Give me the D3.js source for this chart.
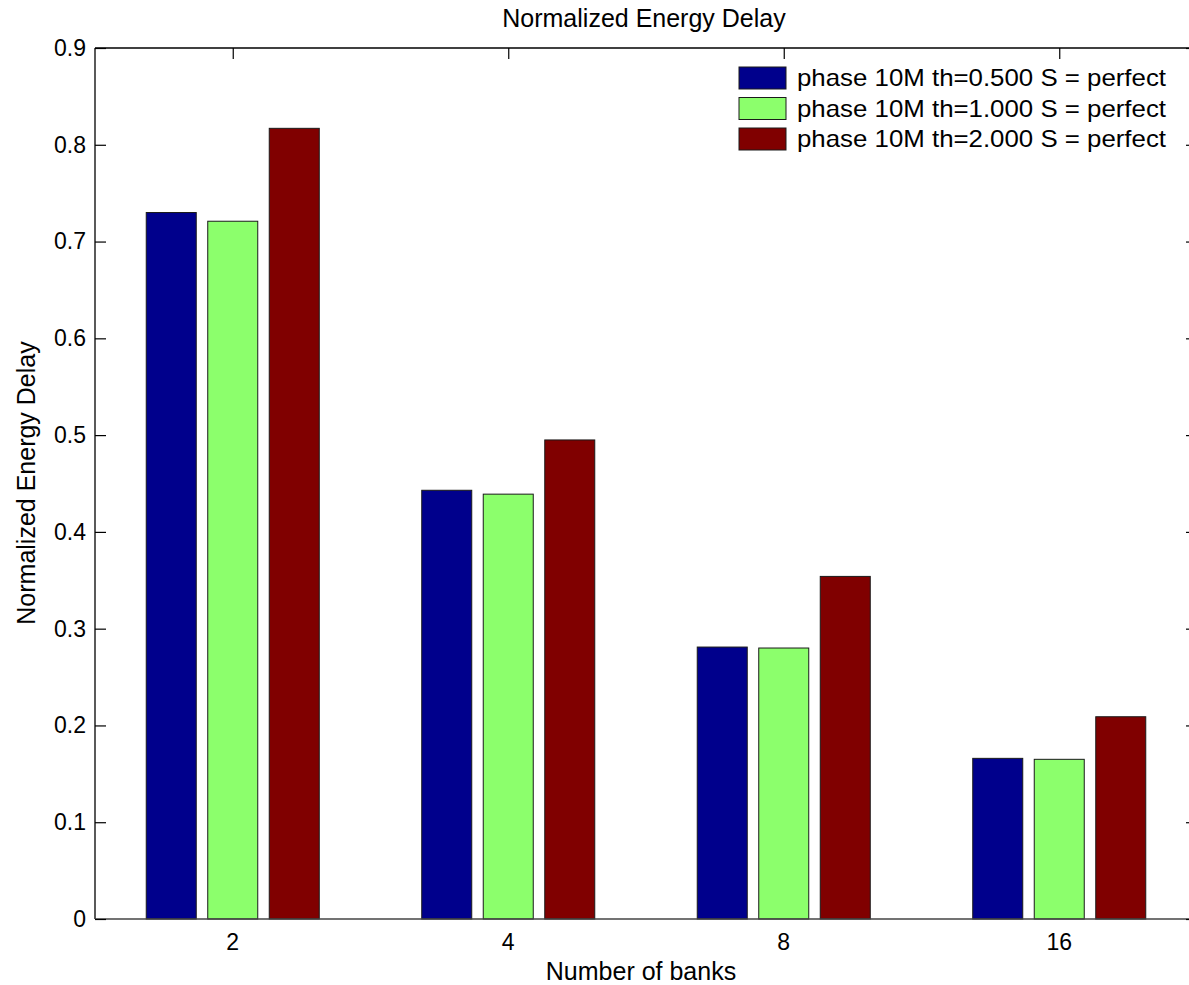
<!DOCTYPE html>
<html>
<head>
<meta charset="utf-8">
<script src="https://cdn.jsdelivr.net/npm/d3@7"></script>
<style>
  html, body { margin: 0; padding: 0; background: #fff; overflow: hidden; }
  svg { display: block; font-family: "Liberation Sans", Arial, sans-serif; }
</style>
</head>
<body>
<svg id="chart" width="1189" height="985"></svg>
<script>
// Categories on the x axis (number of banks)
const categories = ["2", "4", "8", "16"];

// Series names shown in the legend
const seriesNames = [
  "phase 10M th=0.500 S = perfect",
  "phase 10M th=1.000 S = perfect",
  "phase 10M th=2.000 S = perfect"
];

// Normalized energy delay per series, one value per category
const seriesTh0500 = [0.730, 0.443, 0.281, 0.166];
const seriesTh1000 = [0.721, 0.439, 0.280, 0.165];
const seriesTh2000 = [0.817, 0.495, 0.354, 0.209];

const seriesColors = ["#00008c", "#8cff6c", "#800000"];

// Y axis ticks
const yTicks = [0, 0.1, 0.2, 0.3, 0.4, 0.5, 0.6, 0.7, 0.8, 0.9];

const allSeries = [seriesTh0500, seriesTh1000, seriesTh2000];

const svg = d3.select("#chart");

// Plot box (right edge of the axes sits just past the canvas)
const plot = { left: 95, right: 1197, top: 48, bottom: 919 };

const y = d3.scaleLinear().domain([0, 0.9]).range([plot.bottom, plot.top]);

const x = d3.scaleBand()
  .domain(categories)
  .range([plot.left, plot.right])
  .paddingInner(0.372)
  .paddingOuter(0.186);

const xInner = d3.scaleBand()
  .domain(d3.range(allSeries.length))
  .range([0, x.bandwidth()])
  .paddingInner(0.187)
  .paddingOuter(0);

// Bars
const groups = svg.append("g")
  .selectAll("g")
  .data(allSeries)
  .join("g")
  .attr("fill", (d, i) => seriesColors[i]);

groups.selectAll("rect")
  .data((vals, si) => vals.map((v, ci) => ({ v, ci, si })))
  .join("rect")
  .attr("x", d => x(categories[d.ci]) + xInner(d.si))
  .attr("y", d => y(d.v))
  .attr("width", xInner.bandwidth())
  .attr("height", d => y(0) - y(d.v))
  .attr("stroke", "#1a1a1a")
  .attr("stroke-width", 1);

// Axes box
const axisColor = "#000";
const tickLen = 11;
const box = svg.append("g").attr("stroke", axisColor).attr("stroke-width", 1.3).attr("fill", "none");
box.append("line").attr("x1", plot.left).attr("x2", plot.left).attr("y1", plot.top).attr("y2", plot.bottom);
box.append("line").attr("x1", plot.left).attr("x2", plot.right).attr("y1", plot.top).attr("y2", plot.top);
box.append("line").attr("x1", plot.left).attr("x2", plot.right).attr("y1", plot.bottom).attr("y2", plot.bottom).attr("stroke", "#444");
box.append("line").attr("x1", plot.right).attr("x2", plot.right).attr("y1", plot.top).attr("y2", plot.bottom);

// Y ticks (inward on left and right) and labels
const yAxisLeft = d3.axisLeft(y).tickValues(yTicks).tickSize(-tickLen).tickPadding(9)
  .tickFormat(d => d === 0 ? "0" : d3.format(".1f")(d));
const gyl = svg.append("g").attr("transform", `translate(${plot.left},0)`).call(yAxisLeft);
gyl.attr("font-size", 23).attr("font-family", "Liberation Sans, Arial, sans-serif");
gyl.select(".domain").remove();
gyl.selectAll(".tick line").attr("stroke", axisColor).attr("stroke-width", 1.2);
gyl.selectAll(".tick text").attr("fill", "#000");

const yAxisRight = d3.axisRight(y).tickValues(yTicks).tickSize(-tickLen).tickFormat("");
const gyr = svg.append("g").attr("transform", `translate(${plot.right},0)`).call(yAxisRight);
gyr.select(".domain").remove();
gyr.selectAll(".tick line").attr("stroke", axisColor).attr("stroke-width", 1.2);

// X ticks: labels below, marks inward from top
const xCenter = c => x(c) + x.bandwidth() / 2;
const xAxisTop = d3.axisTop(d3.scalePoint().domain(categories).range([xCenter(categories[0]), xCenter(categories[categories.length - 1])]))
  .tickSize(-tickLen).tickFormat("");
const gxt = svg.append("g").attr("transform", `translate(0,${plot.top})`).call(xAxisTop);
gxt.select(".domain").remove();
gxt.selectAll(".tick line").attr("stroke", axisColor).attr("stroke-width", 1.2);

svg.append("g")
  .selectAll("text")
  .data(categories)
  .join("text")
  .attr("x", d => xCenter(d))
  .attr("y", 950)
  .attr("text-anchor", "middle")
  .attr("font-size", 23)
  .text(d => d);

// Title and axis labels
svg.append("text")
  .attr("x", 644)
  .attr("y", 27)
  .attr("text-anchor", "middle")
  .attr("font-size", 25)
  .text("Normalized Energy Delay");

svg.append("text")
  .attr("x", 641)
  .attr("y", 980)
  .attr("text-anchor", "middle")
  .attr("font-size", 25)
  .text("Number of banks");

svg.append("text")
  .attr("transform", "translate(35,483) rotate(-90)")
  .attr("text-anchor", "middle")
  .attr("font-size", 25)
  .text("Normalized Energy Delay");

// Legend
const legend = svg.append("g").attr("transform", "translate(739,67)");
const rowH = 30.5;
const rows = legend.selectAll("g")
  .data(seriesNames)
  .join("g")
  .attr("transform", (d, i) => `translate(0,${i * rowH})`);
rows.append("rect")
  .attr("width", 47).attr("height", 22)
  .attr("fill", (d, i) => seriesColors[i])
  .attr("stroke", "#1a1a1a").attr("stroke-width", 1);
rows.append("text")
  .attr("x", 58)
  .attr("y", 19)
  .attr("font-size", 24)
  .attr("textLength", 369)
  .attr("lengthAdjust", "spacingAndGlyphs")
  .text(d => d);
</script>
</body>
</html>
